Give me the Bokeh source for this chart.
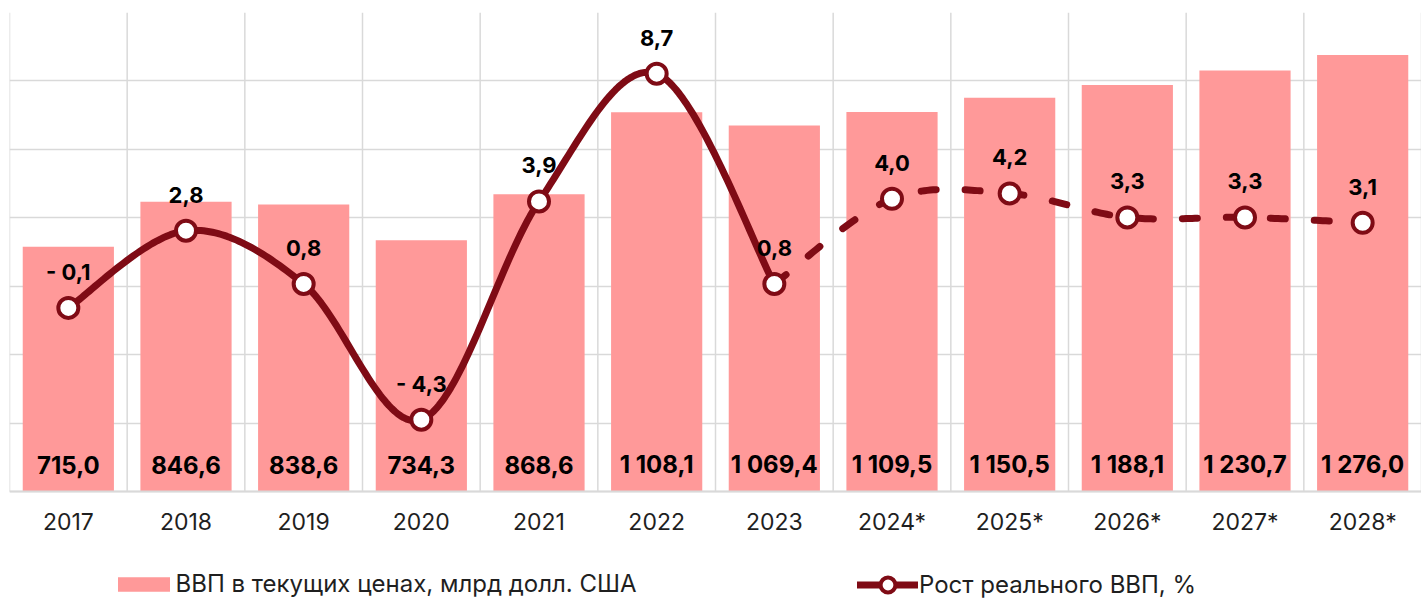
import numpy as np
from bokeh.plotting import figure
from bokeh.models import (Range1d, Grid, FixedTicker, ColumnDataSource,
                          Legend, LegendItem, LinearAxis)
from bokeh.core.properties import value
from bokeh.embed import file_html
from bokeh.resources import INLINE

# ---------------- data ----------------
years = ["2017", "2018", "2019", "2020", "2021", "2022", "2023",
         "2024*", "2025*", "2026*", "2027*", "2028*"]
gdp = [715.0, 846.6, 838.6, 734.3, 868.6, 1108.1, 1069.4,
       1109.5, 1150.5, 1188.1, 1230.7, 1276.0]
growth = [-0.1, 2.8, 0.8, -4.3, 3.9, 8.7, 0.8, 4.0, 4.2, 3.3, 3.3, 3.1]
n_actual = 7  # 2017..2023 actual (solid), 2023..2028 forecast (dashed)

bar_legend = "ВВП в текущих ценах, млрд долл. США"
line_legend = "Рост реального ВВП, %"

# ---------------- style ----------------
FONT = "Inter"
BAR_COLOR = "#FF9999"
LINE_COLOR = "#7F0B15"
GRID_COLOR = "#D9D9D9"
TEXT_COLOR = "#1F1F1F"

W, H = 1421, 599
LEFT, TOP = 9, 12           # frame offset
PLOT_H = 479                # height of the value area (0..1400)
BELOW = H - TOP - PLOT_H    # area under zero line (axis labels + legend)
Y_MAX = 1400
G_MIN, G_MAX = -7, 11


def fmt(v):
    s = f"{abs(v):,.1f}".replace(",", " ").replace(".", ",")
    return ("- " + s) if v < 0 else s


def smooth(xs, ys, steps=40):
    """Excel-like smoothed line (Catmull-Rom as cubic Bezier)."""
    n = len(xs)
    ox, oy = [], []
    for i in range(n - 1):
        p0 = (xs[max(i - 1, 0)], ys[max(i - 1, 0)])
        p1 = (xs[i], ys[i])
        p2 = (xs[i + 1], ys[i + 1])
        p3 = (xs[min(i + 2, n - 1)], ys[min(i + 2, n - 1)])
        c1 = (p1[0] + (p2[0] - p0[0]) / 6, p1[1] + (p2[1] - p0[1]) / 6)
        c2 = (p2[0] - (p3[0] - p1[0]) / 6, p2[1] - (p3[1] - p1[1]) / 6)
        t = np.linspace(0, 1, steps, endpoint=(i == n - 2))
        a, b, c, d = (1 - t) ** 3, 3 * (1 - t) ** 2 * t, 3 * (1 - t) * t ** 2, t ** 3
        ox.extend(a * p1[0] + b * c1[0] + c * c2[0] + d * p2[0])
        oy.extend(a * p1[1] + b * c1[1] + c * c2[1] + d * p2[1])
    return ox, oy


xs = list(range(len(years)))
y_start = -BELOW * Y_MAX / PLOT_H
g_start = G_MIN - BELOW * (G_MAX - G_MIN) / PLOT_H

p = figure(width=W, height=H,
           x_range=Range1d(-0.5, len(years) - 0.5),
           y_range=Range1d(y_start, Y_MAX),
           x_axis_location=None, y_axis_location=None,
           output_backend="svg", toolbar_location=None,
           min_border_left=LEFT, min_border_right=0,
           min_border_top=TOP, min_border_bottom=0)
p.extra_y_ranges = {"g": Range1d(g_start, G_MAX)}
p.outline_line_color = None
p.background_fill_color = "white"
p.border_fill_color = "white"

# remove default grids, add own
for g in list(p.grid):
    g.visible = False
p.add_layout(Grid(dimension=1, ticker=FixedTicker(ticks=list(range(0, Y_MAX + 1, 200))),
                  grid_line_color=GRID_COLOR, grid_line_width=1.5))
bounds = [i - 0.5 for i in range(len(years) + 1)]
p.segment(x0=bounds, y0=[0] * len(bounds), x1=bounds, y1=[Y_MAX] * len(bounds),
          line_color=GRID_COLOR, line_width=1.5, level="underlay")

# x axis at zero
ax = LinearAxis(fixed_location=0, ticker=FixedTicker(ticks=xs))
ax.major_label_overrides = {i: y for i, y in enumerate(years)}
ax.axis_line_color = GRID_COLOR
ax.axis_line_width = 2
ax.major_tick_line_color = None
ax.minor_tick_line_color = None
ax.major_label_standoff = 10
ax.major_label_text_font = FONT
ax.major_label_text_font_size = "23px"
ax.major_label_text_color = TEXT_COLOR
p.add_layout(ax, "below")

# bars
src = ColumnDataSource(dict(x=xs, top=gdp, lab=[fmt(v) for v in gdp],
                            zero=[0] * len(xs)))
bars = p.vbar(x="x", top="top", bottom=0, width=0.775, source=src,
              fill_color=BAR_COLOR, line_color=None)
p.text(x="x", y="zero", text="lab", source=src, text_align="center",
       text_baseline="middle", y_offset=-27, text_font=value(FONT),
       text_font_style="bold", text_font_size="24px", text_color="black")

# growth line
sx, sy = smooth(xs[:n_actual], growth[:n_actual])
solid = p.line(sx, sy, y_range_name="g", line_color=LINE_COLOR, line_width=7,
               line_cap="round", line_join="round")
dx, dy = smooth(xs[n_actual - 1:], growth[n_actual - 1:])
p.line(dx, dy, y_range_name="g", line_color=LINE_COLOR, line_width=7,
       line_dash="15 29", line_cap="round", line_join="round")

gsrc = ColumnDataSource(dict(x=xs, y=growth, lab=[fmt(v) for v in growth]))
marks = p.scatter(x="x", y="y", source=gsrc, y_range_name="g", size=20,
                  fill_color="white", line_color=LINE_COLOR, line_width=4)
p.text(x="x", y="y", text="lab", source=gsrc, y_range_name="g",
       text_align="center", text_baseline="middle", y_offset=-36,
       text_font=value(FONT), text_font_style="bold", text_font_size="22px",
       text_color="black")

# legends
common = dict(padding=0, margin=0, border_line_color=None,
              background_fill_alpha=0, label_text_font=FONT,
              label_text_font_size="24px", label_text_color=TEXT_COLOR,
              orientation="horizontal")
leg1 = Legend(items=[LegendItem(label=bar_legend, renderers=[bars])],
              location=(101.5, 1), glyph_width=65, glyph_height=18,
              label_standoff=0, **common)
leg2 = Legend(items=[LegendItem(label=line_legend, renderers=[solid, marks])],
              location=(848, -4), glyph_width=61, glyph_height=37,
              label_standoff=1, **common)
p.add_layout(leg1, "center")
p.add_layout(leg2, "center")

open("out.html", "w").write(file_html(p, INLINE))
